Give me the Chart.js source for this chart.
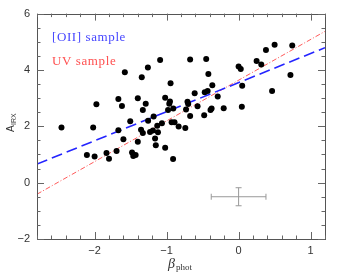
<!DOCTYPE html>
<html lang="en">
<head>
  <meta charset="UTF-8">
  <title>A_IRX vs beta_phot</title>
  <script src="https://cdn.jsdelivr.net/npm/chart.js@4.4.1/dist/chart.umd.min.js"></script>
  <style>
    html, body { margin: 0; padding: 0; background: #fff; }
    #wrap { width: 343px; height: 276px; }
  </style>
</head>
<body>
  <div id="wrap"><canvas id="myChart" width="343" height="276"></canvas></div>

  <script>
    // galaxies: UV slope beta_phot and IRX attenuation
    const betaPhot = [
      -2.46, -2.02, -1.975, -1.67, -1.62, -1.58, -1.67, -1.60, -1.505, -1.40,
      -1.345, -1.26, -1.29, -1.33, -1.355, -1.33, -1.257, -1.18, -1.23, -1.19,
      -1.13, -1.12, -1.16, -1.09, -1.065, -1.02, -0.953, -0.963, -0.98, -0.945,
      -0.907, -0.93, -0.89, -0.833, -0.74, -0.73, -0.71, -0.70, -0.673, -0.673,
      -0.61, -0.57, -0.478, -0.47, -0.45, -0.43, -0.42, -0.39, -0.375, -0.365,
      -0.29, -0.207, 0.0, 0.03, 0.05, 0.045, 0.25, 0.315, 0.38, 0.50,
      0.465, 0.72, 0.745, -2.107, -2.0, -1.835, -1.80, -1.695, -1.48, -1.463,
      -1.43, -1.40, -1.15, -1.02, -0.91
    ];
    const aIRX = [
      1.96, 1.96, 2.78, 2.97, 2.72, 3.92, 1.86, 1.54, 2.18, 3.00,
      3.74, 4.09, 2.80, 2.58, 1.88, 1.76, 2.20, 2.35, 1.80, 1.85,
      2.02, 1.79, 1.57, 4.35, 2.11, 3.01, 2.88, 2.80, 2.58, 3.53,
      2.63, 2.14, 2.14, 1.99, 1.94, 2.60, 2.87, 2.79, 2.37, 4.37,
      3.17, 2.71, 2.39, 3.21, 4.39, 3.25, 3.86, 2.58, 2.63, 3.46,
      3.06, 2.64, 4.12, 4.03, 3.44, 2.69, 4.32, 4.19, 4.71, 4.89,
      3.25, 3.82, 4.87, 0.98, 0.93, 1.05, 0.85, 1.12, 1.07, 0.95,
      0.98, 1.45, 1.33, 1.24, 0.84
    ];

    // fitted relations, end points at the plot edges
    const oiiFitX = [-2.8, 1.2];
    const oiiFitY = [0.66, 4.79];
    const uvFitX = [-2.8, 1.2];
    const uvFitY = [-0.41, 5.37];

    // typical error bar
    const errCenter = [0, -0.5];
    const errSize = [0.38, 0.32];

    const xTicks = [-2, -1, 0, 1];
    const yTicks = [-2, 0, 2, 4, 6];

    const toPts = (xs, ys) => xs.map((v, i) => ({ x: v, y: ys[i] }));
    const minus = v => String(v).replace('-', '\u2212');

    /* frame, inward ticks, error bar, labels */
    const decor = {
      id: 'decor',
      afterDatasetsDraw(chart) {
        const { ctx, chartArea: a, scales: { x, y } } = chart;
        ctx.save();

        // error cross
        const cx = x.getPixelForValue(errCenter[0]);
        const cy = y.getPixelForValue(errCenter[1]);
        const x0 = x.getPixelForValue(errCenter[0] - errSize[0]);
        const x1 = x.getPixelForValue(errCenter[0] + errSize[0]);
        const y0 = y.getPixelForValue(errCenter[1] + errSize[1]);
        const y1 = y.getPixelForValue(errCenter[1] - errSize[1]);
        ctx.strokeStyle = '#999';
        ctx.lineWidth = 1;
        ctx.beginPath();
        ctx.moveTo(x0, cy); ctx.lineTo(x1, cy);
        ctx.moveTo(cx, y0); ctx.lineTo(cx, y1);
        ctx.moveTo(x0, cy - 3); ctx.lineTo(x0, cy + 3);
        ctx.moveTo(x1, cy - 3); ctx.lineTo(x1, cy + 3);
        ctx.moveTo(cx - 3, y0); ctx.lineTo(cx + 3, y0);
        ctx.moveTo(cx - 3, y1); ctx.lineTo(cx + 3, y1);
        ctx.stroke();

        // frame
        ctx.strokeStyle = '#555';
        ctx.strokeRect(Math.round(a.left) + 0.5, Math.round(a.top) + 0.5,
          Math.round(a.right - a.left), Math.round(a.bottom - a.top));

        // ticks
        ctx.strokeStyle = '#666';
        ctx.beginPath();
        for (let i = -14; i <= 6; i++) {
          const px = Math.round(x.getPixelForValue(i * 0.2)) + 0.5;
          const len = i % 5 === 0 ? 7 : 3.5;
          ctx.moveTo(px, a.bottom); ctx.lineTo(px, a.bottom - len);
          ctx.moveTo(px, a.top); ctx.lineTo(px, a.top + len);
        }
        for (let j = -4; j <= 12; j++) {
          const py = Math.round(y.getPixelForValue(j * 0.5)) + 0.5;
          const len = j % 4 === 0 ? 7 : 3.5;
          ctx.moveTo(a.left, py); ctx.lineTo(a.left + len, py);
          ctx.moveTo(a.right, py); ctx.lineTo(a.right - len, py);
        }
        ctx.stroke();

        // legend texts
        ctx.font = '13px "Liberation Serif"';
        ctx.letterSpacing = '0.6px';
        ctx.textBaseline = 'alphabetic';
        ctx.textAlign = 'left';
        ctx.fillStyle = '#4646ff';
        ctx.fillText('[OII] sample', a.left + 15, a.top + 27);
        ctx.fillStyle = '#ff5050';
        ctx.fillText('UV sample', a.left + 15, a.top + 51);
        ctx.letterSpacing = '0px';

        // y title A_IRX
        ctx.fillStyle = '#333';
        ctx.translate(14, 132);
        ctx.rotate(-Math.PI / 2);
        ctx.font = '10px "Liberation Sans"';
        ctx.fillText('A', 0, 0);
        ctx.font = '7px "Liberation Sans"';
        ctx.fillText('IRX', 7, 2);
        ctx.restore();

        // x title beta_phot
        ctx.save();
        ctx.fillStyle = '#333';
        ctx.textBaseline = 'alphabetic';
        ctx.font = 'italic 14px "Liberation Serif"';
        ctx.fillText('\u03B2', 168, 268);
        ctx.font = '9px "Liberation Serif"';
        ctx.fillText('phot', 176, 270);
        ctx.restore();
      }
    };

    const data = {
      datasets: [
        {
          type: 'scatter',
          data: toPts(betaPhot, aIRX),
          backgroundColor: '#000',
          borderColor: '#000',
          pointRadius: 3,
          pointBorderWidth: 0
        },
        {
          type: 'line',
          data: toPts(oiiFitX, oiiFitY),
          borderColor: '#2525ff',
          borderWidth: 1.6,
          borderDash: [11, 5],
          pointRadius: 0
        },
        {
          type: 'line',
          data: toPts(uvFitX, uvFitY),
          borderColor: '#ff5a5a',
          borderWidth: 1,
          borderDash: [5, 2, 1, 2],
          pointRadius: 0
        }
      ]
    };

    const config = {
      data,
      options: {
        responsive: false,
        animation: false,
        events: [],
        layout: { padding: { top: 9, right: 18, left: 0, bottom: 0 } },
        plugins: { legend: { display: false }, tooltip: { enabled: false } },
        scales: {
          x: {
            type: 'linear',
            min: -2.8,
            max: 1.2,
            grid: { display: false, drawTicks: false },
            border: { display: false },
            afterBuildTicks: s => { s.ticks = xTicks.map(v => ({ value: v })); },
            afterFit: s => { s.height = 37; },
            ticks: {
              padding: 5,
              color: '#333',
              font: { family: 'Liberation Sans', size: 11 },
              callback: v => minus(v)
            }
          },
          y: {
            type: 'linear',
            min: -2,
            max: 6,
            grid: { display: false, drawTicks: false },
            border: { display: false },
            afterBuildTicks: s => { s.ticks = yTicks.map(v => ({ value: v })); },
            afterFit: s => { s.width = 37; },
            ticks: {
              padding: 7,
              color: '#333',
              font: { family: 'Liberation Sans', size: 11 },
              callback: v => minus(v)
            }
          }
        }
      },
      plugins: [decor]
    };

    new Chart(document.getElementById('myChart'), config);
  </script>
</body>
</html>
